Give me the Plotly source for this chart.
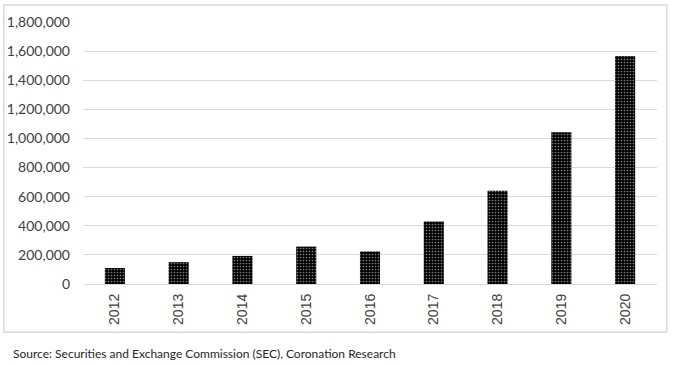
import plotly.graph_objects as go

years = ["2012", "2013", "2014", "2015", "2016", "2017", "2018", "2019", "2020"]
values = [110000, 150000, 193000, 257000, 224000, 430000, 640000, 1043000, 1567000]
y_ticks = [0, 200000, 400000, 600000, 800000, 1000000, 1200000, 1400000, 1600000, 1800000]
source_text = "Source: Securities and Exchange Commission (SEC), Coronation Research"

W, H = 675, 365
PL, PR, PT, PB = 82.6, 657.0, 22.0, 284.3  # plot area in window pixels
L, T = PL, PT
R = W - PR
B = H - PB
pw, ph = PR - PL, PB - PT

def px_x(x):
    return (x - PL) / pw

def px_y(y):
    return (PB - y) / ph

fig = go.Figure()
fig.add_trace(go.Bar(
    x=years, y=values,
    width=0.315,
    marker=dict(
        color="black",
        line=dict(width=0),
        pattern=dict(shape=".", bgcolor="black", fgcolor="white", size=3, solidity=0.25, fillmode="overlay"),
    ),
    hoverinfo="skip",
))

fig.update_layout(
    width=W, height=H,
    margin=dict(l=L, r=R, t=T, b=B, pad=0, autoexpand=False),
    paper_bgcolor="white", plot_bgcolor="white",
    showlegend=False,
    font=dict(family="Lato, 'Open Sans', sans-serif", color="#404040", size=13),
    xaxis=dict(
        type="category",
        automargin=False,
        tickangle=-90,
        showgrid=False,
        showline=False,
        ticks="",
        ticklabelstandoff=6,
        tickfont=dict(family="'Liberation Sans', Arial, sans-serif", size=14, color="#404040"),
    ),
    yaxis=dict(
        range=[0, 1800000],
        automargin=False,
        tickvals=y_ticks,
        tickformat=",d",
        showgrid=True,
        gridcolor="#d9d9d9",
        gridwidth=1,
        zeroline=True,
        zerolinecolor="#d9d9d9",
        zerolinewidth=1,
        showline=False,
        ticks="",
        ticklabelstandoff=12,
        tickfont=dict(family="Lato, 'Open Sans', sans-serif", size=14, color="#404040"),
    ),
    shapes=[dict(
        type="rect", xref="paper", yref="paper",
        x0=px_x(3.3), x1=px_x(666.7), y0=px_y(332.7), y1=px_y(5),
        line=dict(color="#d9d9d9", width=1.5), fillcolor="rgba(0,0,0,0)", layer="below",
    )],
    annotations=[dict(
        text=source_text, xref="paper", yref="paper",
        x=px_x(11), y=px_y(354), xanchor="left", yanchor="middle",
        showarrow=False, font=dict(family="Lato, 'Open Sans', sans-serif", size=12, color="#262626"),
    )],
)

fig.write_html(
    "out.html",
    config={"displayModeBar": False, "staticPlot": True},
    post_script="document.body.style.margin='0';document.body.style.overflow='hidden';",
)
